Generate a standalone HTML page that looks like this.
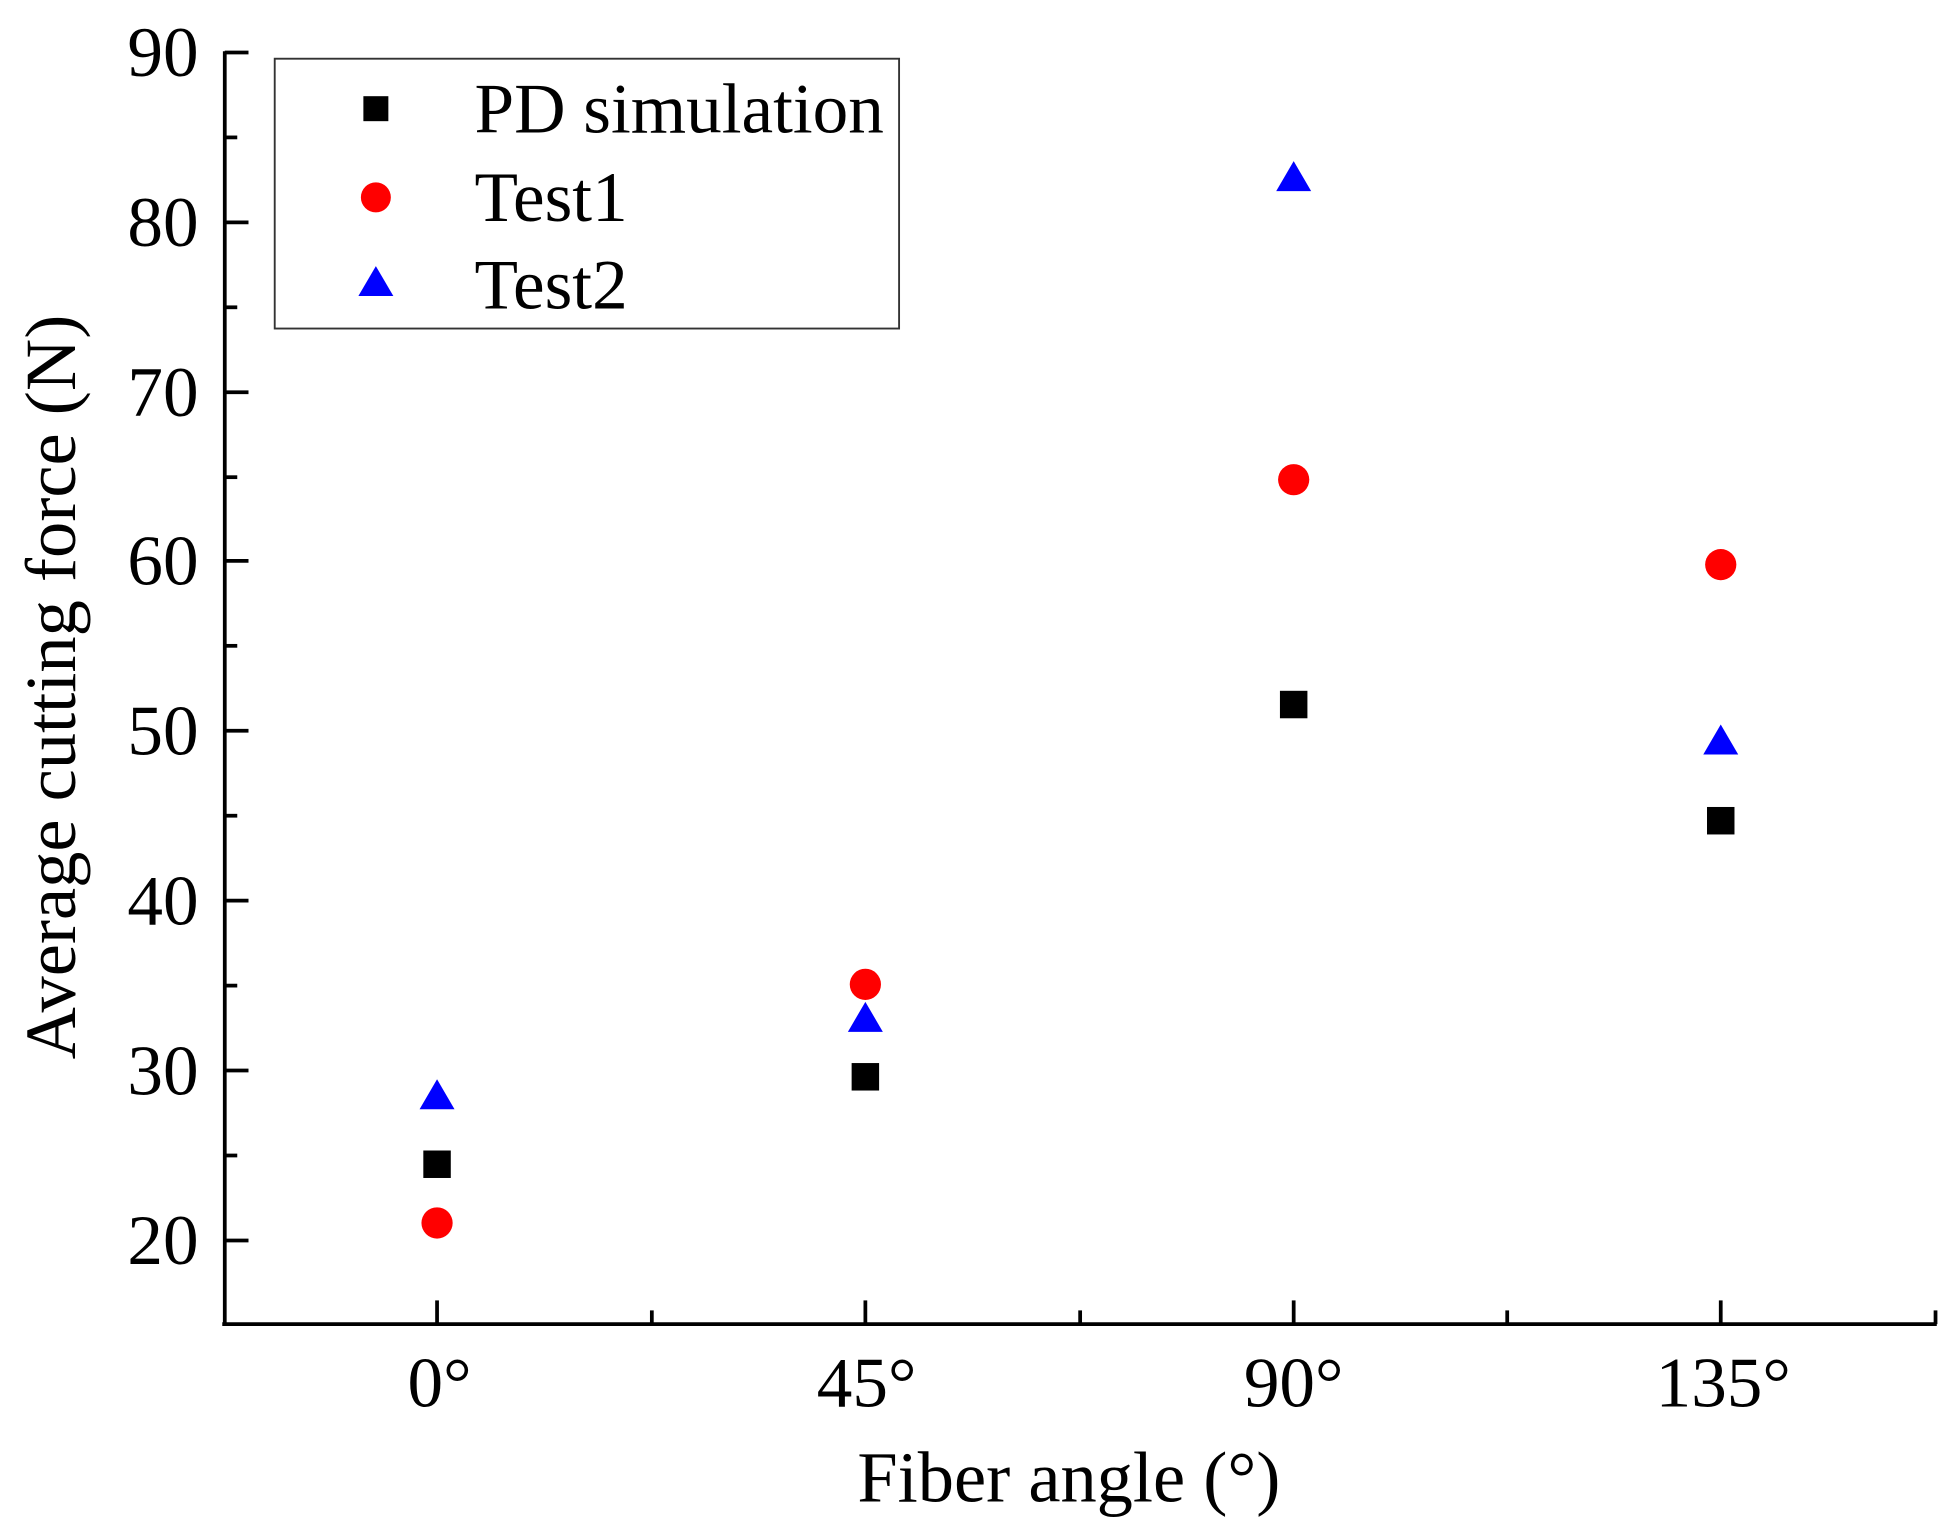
<!DOCTYPE html>
<html><head><meta charset="utf-8"><style>html,body{margin:0;padding:0;background:#fff}svg{display:block}</style></head>
<body>
<svg width="1958" height="1534" viewBox="0 0 1568 1228" preserveAspectRatio="none" xmlns="http://www.w3.org/2000/svg" font-family="'Liberation Serif', serif">
<g stroke="#000" stroke-width="3" fill="none">
<line x1="180" y1="41" x2="180" y2="1061"/>
<line x1="178" y1="1060" x2="1551" y2="1060"/>
<line x1="180" y1="42" x2="199" y2="42"/>
<line x1="180" y1="178" x2="199" y2="178"/>
<line x1="180" y1="314" x2="199" y2="314"/>
<line x1="180" y1="449" x2="199" y2="449"/>
<line x1="180" y1="585" x2="199" y2="585"/>
<line x1="180" y1="721" x2="199" y2="721"/>
<line x1="180" y1="857" x2="199" y2="857"/>
<line x1="180" y1="993" x2="199" y2="993"/>
<line x1="180" y1="110" x2="190" y2="110"/>
<line x1="180" y1="246" x2="190" y2="246"/>
<line x1="180" y1="382" x2="190" y2="382"/>
<line x1="180" y1="517" x2="190" y2="517"/>
<line x1="180" y1="653" x2="190" y2="653"/>
<line x1="180" y1="789" x2="190" y2="789"/>
<line x1="180" y1="925" x2="190" y2="925"/>
<line x1="350" y1="1060" x2="350" y2="1041"/>
<line x1="693" y1="1060" x2="693" y2="1041"/>
<line x1="1036" y1="1060" x2="1036" y2="1041"/>
<line x1="1378" y1="1060" x2="1378" y2="1041"/>
<line x1="522" y1="1060" x2="522" y2="1049"/>
<line x1="865" y1="1060" x2="865" y2="1049"/>
<line x1="1207" y1="1060" x2="1207" y2="1049"/>
<line x1="1550" y1="1060" x2="1550" y2="1049"/>
</g>
<g font-size="57" text-anchor="end" fill="#000">
<text x="159" y="61">90</text><text x="159" y="197">80</text><text x="159" y="333">70</text>
<text x="159" y="468">60</text><text x="159" y="604">50</text><text x="159" y="740">40</text>
<text x="159" y="876">30</text><text x="159" y="1012">20</text>
</g>
<g font-size="57" text-anchor="middle" fill="#000">
<text x="352" y="1126">0°</text><text x="694" y="1126">45°</text>
<text x="1036" y="1126">90°</text><text x="1380" y="1126">135°</text>
<text x="856" y="1202" font-size="58">Fiber angle (°)</text>
<text transform="translate(60,550) rotate(-90)" font-size="58">Average cutting force (N)</text>
</g>
<rect x="220" y="47" width="500" height="216" fill="#fff" stroke="#333" stroke-width="1.5"/>
<rect x="291" y="77" width="20" height="20" fill="#000"/>
<circle cx="301" cy="158" r="12" fill="#f00"/>
<polygon points="301,213 287,237 315,237" fill="#00f"/>
<g font-size="57" fill="#000">
<text x="380" y="106">PD simulation</text>
<text x="380" y="177">Test1</text>
<text x="380" y="247">Test2</text>
</g>
<g fill="#000">
<rect x="339" y="921" width="22" height="22"/>
<rect x="682" y="851" width="22" height="22"/>
<rect x="1025" y="553" width="22" height="22"/>
<rect x="1367" y="646" width="22" height="22"/>
</g>
<g fill="#f00">
<circle cx="350" cy="979" r="12.5"/>
<circle cx="693" cy="788" r="12.5"/>
<circle cx="1036" cy="384" r="12.5"/>
<circle cx="1378" cy="452" r="12.5"/>
</g>
<g fill="#00f">
<polygon points="350,864 336,888 364,888"/>
<polygon points="693,802 679,826 707,826"/>
<polygon points="1036,129 1022,153 1050,153"/>
<polygon points="1378,580 1364,604 1392,604"/>
</g>
</svg>
</body></html>
